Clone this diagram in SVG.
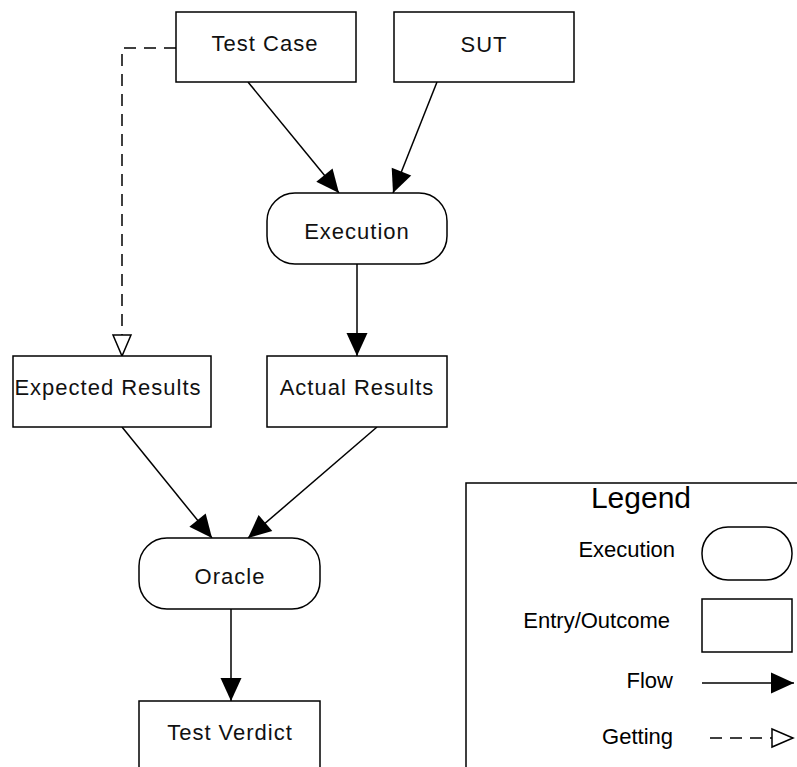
<svg xmlns="http://www.w3.org/2000/svg" width="797" height="767" viewBox="0 0 797 767">
<style>
.box{fill:#fff;stroke:#000;stroke-width:1.5}
.lbl{font-family:"Liberation Sans",Arial,sans-serif;font-size:22px;letter-spacing:1px;text-anchor:middle;fill:#111}
.leg{font-family:"Liberation Sans",Arial,sans-serif;font-size:22px;text-anchor:end;fill:#000}
.flow{fill:none;stroke:#000;stroke-width:1.5;marker-end:url(#solid)}
.get{fill:none;stroke:#000;stroke-width:1.5;stroke-dasharray:12 8;marker-end:url(#open)}
</style>
<defs>
<marker id="solid" markerUnits="userSpaceOnUse" markerWidth="26" markerHeight="24" refX="23" refY="10.5" orient="auto" overflow="visible">
<path d="M0,0 L23,10.5 L0,21 z" fill="#000"/>
</marker>
<marker id="open" markerUnits="userSpaceOnUse" markerWidth="24" markerHeight="22" refX="21" refY="9" orient="auto" overflow="visible">
<path d="M0,0 L21,9 L0,18 z" fill="#fff" stroke="#000" stroke-width="1.5" stroke-dasharray="none"/>
</marker>
</defs>
<g id="connectors">
<line class="flow" x1="248" y1="82" x2="339" y2="193"/>
<line class="flow" x1="437" y1="82" x2="393" y2="193"/>
<line class="flow" x1="357" y1="264" x2="357" y2="356"/>
<line class="flow" x1="122" y1="427" x2="212" y2="538"/>
<line class="flow" x1="377" y1="427" x2="248" y2="538"/>
<line class="flow" x1="231" y1="609" x2="231" y2="701"/>
<polyline class="get" points="176,48 122,48 122,356"/>
</g>
<g id="test-case">
<rect class="box" x="176" y="12" width="180" height="70"/>
<text class="lbl" x="265" y="51">Test Case</text>
</g>
<g id="sut">
<rect class="box" x="394" y="12" width="180" height="70"/>
<text class="lbl" x="484" y="52">SUT</text>
</g>
<g id="execution">
<rect class="box" x="267" y="193" width="180" height="71" rx="28" ry="28"/>
<text class="lbl" x="357" y="239">Execution</text>
</g>
<g id="expected-results">
<rect class="box" x="13" y="356" width="198" height="71"/>
<text class="lbl" x="108" y="395">Expected Results</text>
</g>
<g id="actual-results">
<rect class="box" x="267" y="356" width="180" height="71"/>
<text class="lbl" x="357" y="395">Actual Results</text>
</g>
<g id="oracle">
<rect class="box" x="139" y="538" width="181" height="71" rx="28" ry="28"/>
<text class="lbl" x="230" y="584">Oracle</text>
</g>
<g id="test-verdict">
<rect class="box" x="139" y="701" width="181" height="80"/>
<text class="lbl" x="230" y="740">Test Verdict</text>
</g>
<g id="legend">
<rect class="box" x="466" y="483" width="340" height="300"/>
<text x="641" y="508" font-family="Liberation Sans, Arial, sans-serif" font-size="30" text-anchor="middle">Legend</text>
<text class="leg" x="675" y="557">Execution</text>
<rect class="box" x="702" y="527" width="90" height="53" rx="26" ry="26"/>
<text class="leg" x="670" y="628">Entry/Outcome</text>
<rect class="box" x="702" y="599" width="90" height="53"/>
<text class="leg" x="673" y="688">Flow</text>
<line class="flow" x1="702" y1="683" x2="794" y2="683"/>
<text class="leg" x="673" y="744">Getting</text>
<line class="get" x1="710" y1="738" x2="793" y2="738"/>
</g>
</svg>
